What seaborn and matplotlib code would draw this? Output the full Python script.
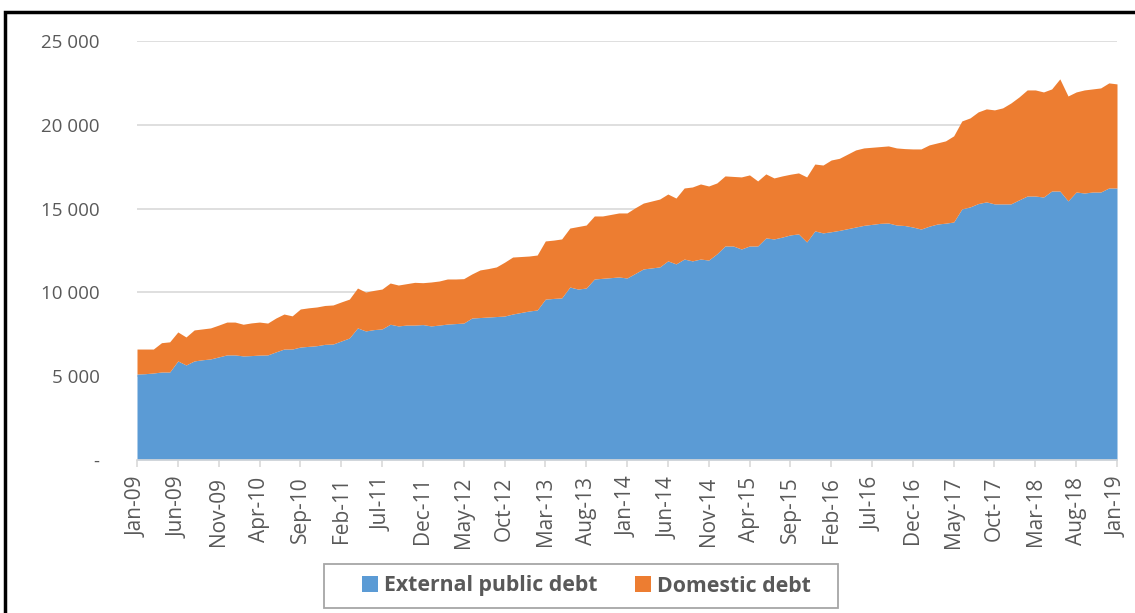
import numpy as np
import pandas as pd
import matplotlib
matplotlib.use('Agg')
import matplotlib.pyplot as plt
import seaborn as sns
from matplotlib.patches import Rectangle

# monthly values, Jan-09 .. Jan-19
months = pd.date_range('2009-01-01', '2019-01-01', freq='MS')

external = [5130, 5150, 5190, 5250, 5250, 5910, 5670, 5910, 5980, 6030,
            6150, 6270, 6270, 6210, 6230, 6260, 6270, 6450, 6620, 6620,
            6740, 6780, 6820, 6900, 6920, 7100, 7280, 7880, 7700, 7780,
            7820, 8100, 8000, 8050, 8050, 8080, 8000, 8050, 8110, 8140,
            8170, 8470, 8500, 8530, 8560, 8590, 8710, 8800, 8890, 8950,
            9600, 9640, 9670, 10320, 10200, 10260, 10800, 10840, 10880, 10920,
            10860, 11130, 11400, 11460, 11520, 11880, 11700, 11990, 11880, 11990,
            11930, 12300, 12770, 12770, 12590, 12770, 12770, 13250, 13190, 13300,
            13430, 13490, 13010, 13670, 13550, 13620, 13700, 13800, 13900, 14000,
            14060, 14120, 14140, 14020, 13990, 13900, 13780, 13950, 14080, 14130,
            14200, 14980, 15100, 15300, 15400, 15280, 15280, 15280, 15520, 15750,
            15750, 15690, 16050, 16050, 15460, 15990, 15930, 15990, 15990, 16230,
            16230]

domestic = [1490, 1470, 1430, 1750, 1800, 1730, 1670, 1850, 1840, 1850,
            1900, 1960, 1960, 1890, 1950, 1970, 1900, 2020, 2090, 1980,
            2270, 2300, 2310, 2320, 2330, 2330, 2320, 2380, 2320, 2340,
            2380, 2460, 2440, 2470, 2550, 2500, 2620, 2630, 2690, 2660,
            2650, 2630, 2840, 2890, 2960, 3210, 3400, 3340, 3280, 3280,
            3470, 3480, 3520, 3520, 3730, 3760, 3760, 3720, 3770, 3820,
            3880, 3920, 3930, 3990, 4050, 3990, 3930, 4240, 4410, 4480,
            4420, 4230, 4180, 4150, 4300, 4240, 3880, 3820, 3640, 3650,
            3620, 3640, 3880, 3990, 4050, 4280, 4300, 4450, 4600, 4620,
            4600, 4580, 4600, 4600, 4590, 4660, 4780, 4850, 4840, 4910,
            5140, 5250, 5310, 5470, 5550, 5610, 5730, 6020, 6140, 6330,
            6330, 6270, 6090, 6690, 6260, 5970, 6150, 6150, 6210, 6270,
            6210]

series_names = ['External public debt', 'Domestic debt']
colors = ['#5B9BD5', '#ED7D31']
yticks = [0, 5000, 10000, 15000, 20000, 25000]
ytick_labels = ['-', '5 000', '10 000', '15 000', '20 000', '25 000']

sns.set_style('white')
plt.rcParams['font.family'] = ['Open Sans', 'DejaVu Sans']

df = pd.DataFrame({'date': months, series_names[0]: external, series_names[1]: domestic})
x = np.arange(len(df))

W, H = 1135, 613
fig = plt.figure(figsize=(W / 100, H / 100), dpi=100)
ax = fig.add_axes([137/W, 1-460/H, (1117-137)/W, (460-41)/H])

ax.stackplot(x, df[series_names[0]], df[series_names[1]],
             colors=colors, labels=series_names, linewidth=0, zorder=2)

ax.set_xlim(0, len(df) - 1)
ax.set_ylim(0, 25000)
ax.set_yticks(yticks)
ax.set_yticklabels(ytick_labels)
ax.yaxis.grid(True, color='#d9d9d9', linewidth=1.2, zorder=0)
ax.set_axisbelow(True)

tick_pos = x[::5]
ax.set_xticks(tick_pos)
ax.set_xticklabels(df['date'].dt.strftime('%b-%y').iloc[::5], rotation=90)

for s in ['top', 'right', 'left']:
    ax.spines[s].set_visible(False)
ax.spines['bottom'].set_color('#d9d9d9')
ax.spines['bottom'].set_linewidth(1.2)
ax.spines['bottom'].set_zorder(3)

ax.tick_params(axis='x', colors='#595959', labelsize=15, length=5,
               width=1.2, direction='out', bottom=True, pad=7)
ax.tick_params(axis='x', color='#d9d9d9')
ax.tick_params(axis='y', colors='#595959', labelsize=13.5, length=0, pad=27)

leg = fig.legend(loc='center', bbox_to_anchor=(586.5/W, 1-586/H), ncol=2,
                 frameon=False, handlelength=0.75, handleheight=0.75,
                 columnspacing=1.75, handletextpad=0.3, borderpad=0,
                 borderaxespad=0, prop={'weight': 'bold', 'size': 15.3})
for t in leg.get_texts():
    t.set_color('#595959')

# legend frame
fig.patches.append(Rectangle((324/W, 1-608/H), (838-324)/W, (608-564)/H,
                             transform=fig.transFigure, fill=False,
                             edgecolor='#a6a6a6', linewidth=1.3))

# outer frame of the chart
fig.patches.append(Rectangle((5/W, -0.05), 1.1, 1-12/H+0.05, transform=fig.transFigure,
                             fill=False, edgecolor='black', linewidth=2.5))

fig.savefig('out.png', dpi=100)
